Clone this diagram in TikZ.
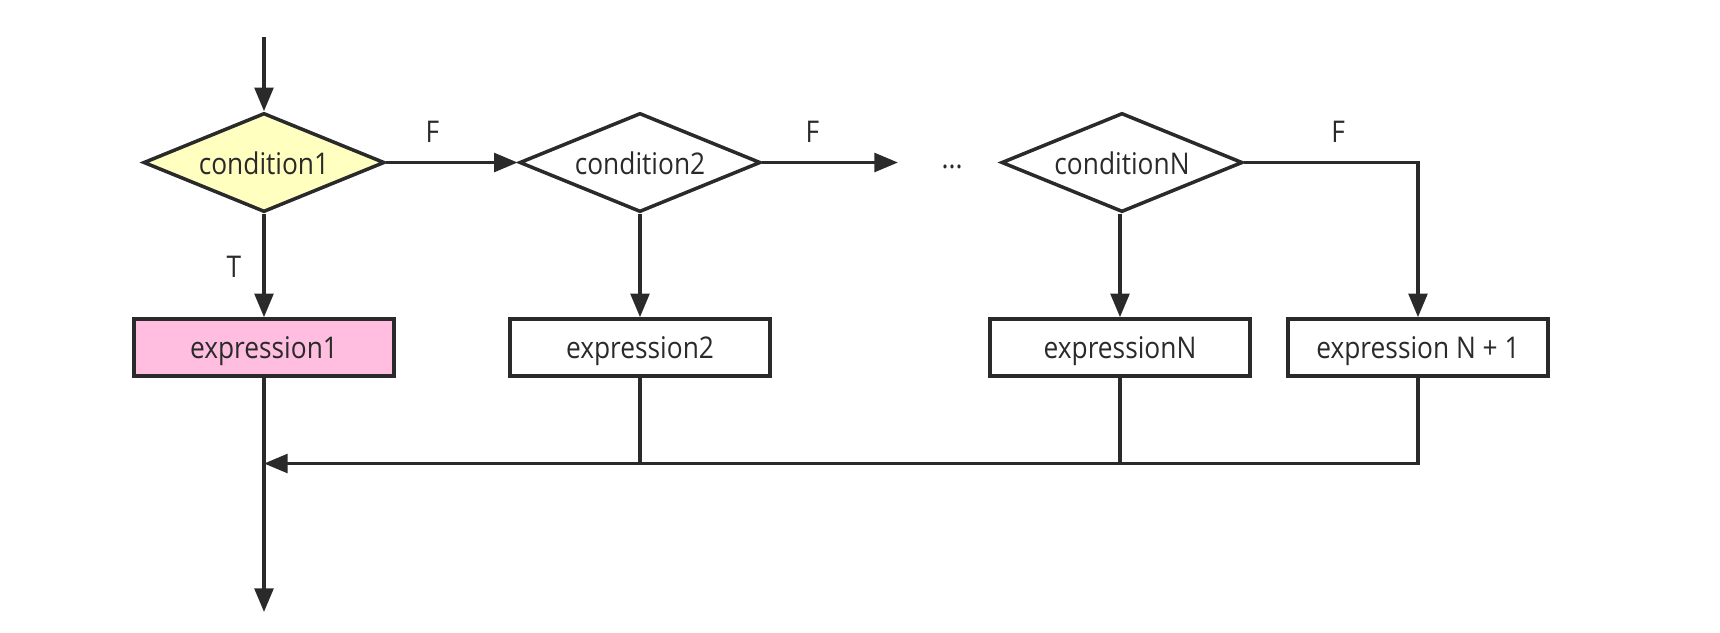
\documentclass[tikz,border=0pt]{standalone}
\usepackage{fontspec}
\setmainfont[FakeStretch=0.88]{Open Sans}
\usetikzlibrary{arrows.meta,shapes.geometric}
\definecolor{ln}{HTML}{2A2A2A}
\definecolor{ylw}{HTML}{FFFFC0}
\definecolor{pnk}{HTML}{FFBEE0}
\tikzset{
  base/.style={draw=ln, line width=1pt, text=ln, font=\fontsize{8.5}{10}\selectfont, inner sep=0pt},
  cond/.style={base, diamond, aspect=2.44, minimum width=2.41cm, minimum height=0.99cm, text height=6.6pt, text depth=0pt},
  expr/.style={base, rectangle, minimum width=2.6cm, minimum height=0.57cm, text height=6.3pt, text depth=0pt},
  conn/.style={draw=ln, line width=1pt},
  arr/.style={conn, -{Triangle[length=6.7pt,width=5.3pt]}},
  lbl/.style={text=ln, font=\fontsize{8.5}{10}\selectfont, inner sep=0pt}
}
\begin{document}
\begin{tikzpicture}[x=0.01cm,y=-0.01cm]
\useasboundingbox (0,0) rectangle (1720,632);
\coordinate (start) at (264,37);
\node[cond, fill=ylw] (d1) at (264,162.5) {condition1};
\node[cond] (d2) at (640,162.5) {condition2};
\node[lbl] (dots) at (952,167) {...};
\coordinate (dotsin) at (898,162.5);
\node[cond] (dN) at (1122,162.5) {conditionN};
\node[expr, fill=pnk] (e1) at (264,347.5) {expression1};
\node[expr] (e2) at (640,347.5) {expression2};
\node[expr] (eN) at (1120,347.5) {expressionN};
\node[expr] (eN1) at (1418,347.5) {expression N + 1};
\coordinate (merge) at (264,463.5);
\coordinate (end) at (264,612);

\draw[arr] (start) -- (d1.north);
\draw[arr] (d1.east) -- node[lbl, pos=0.35, yshift=0.31cm] {F} (d2.west);
\draw[arr] (d2.east) -- node[lbl, pos=0.37, yshift=0.31cm] {F} (dotsin);
\draw[arr] (dN.east) -| node[lbl, pos=0.27, yshift=0.31cm] {F} (eN1.north);
\draw[arr] (d1.south) -- node[lbl, pos=0.51, xshift=-0.3cm] {T} (e1.north);
\draw[arr] (d2.south) -- (e2.north);
\draw[arr] (dN.south -| eN.north) -- (eN.north);
\draw[arr] (e1.south) -- (end);
\draw[arr] (eN1.south) |- (merge);
\draw[conn] (eN.south) -- (eN.south |- merge);
\draw[conn] (e2.south) -- (e2.south |- merge);
\end{tikzpicture}
\end{document}
